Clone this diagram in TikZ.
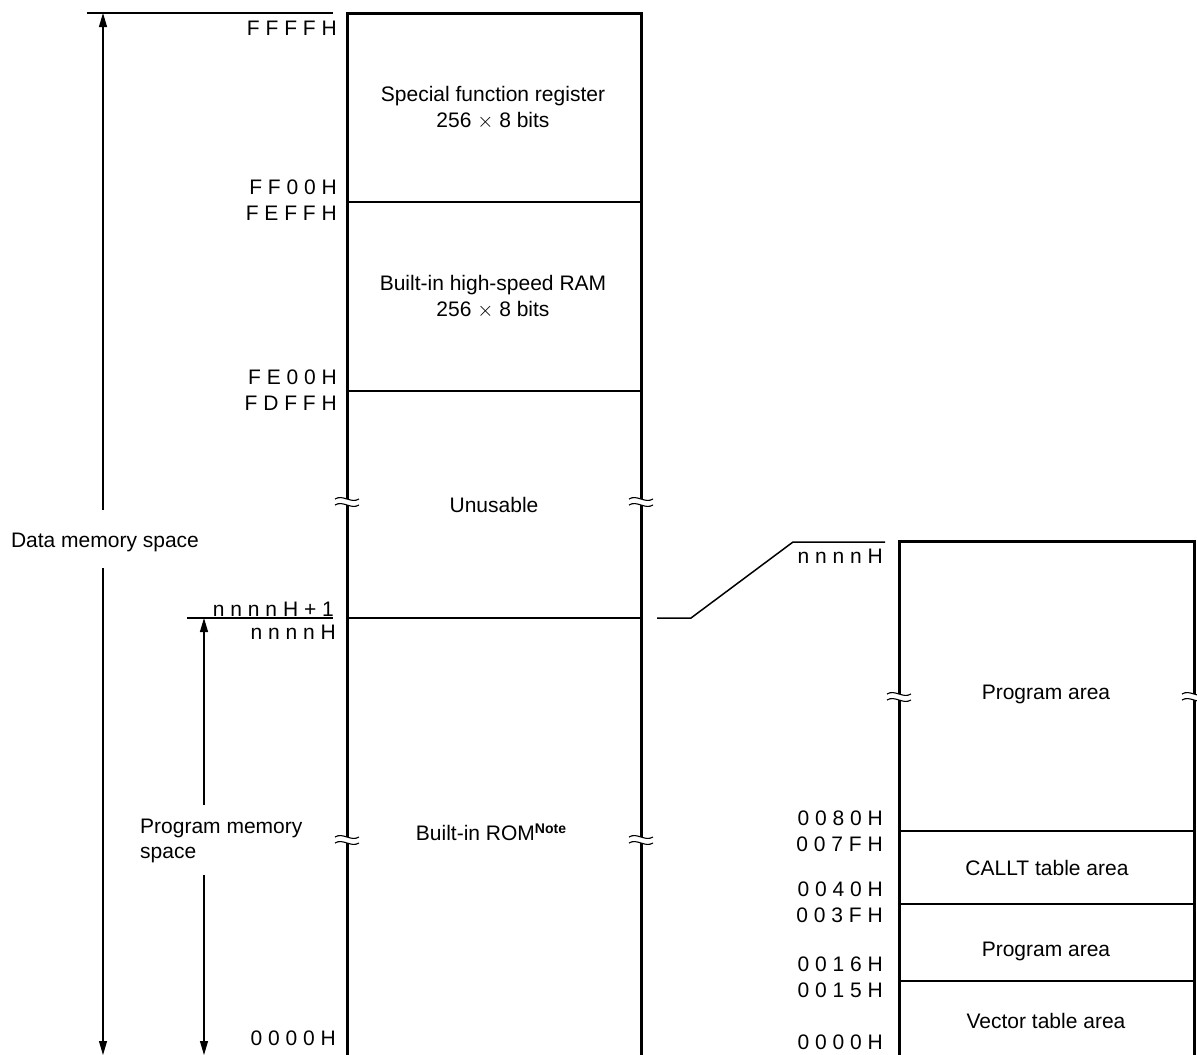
\documentclass[tikz,border=0pt]{standalone}
\usepackage{fontspec}
\setmainfont{Liberation Sans}
\usetikzlibrary{arrows.meta}

% break mark across a vertical edge
\newcommand{\brkmark}[2]{%
  \fill[white] (#1-12,#2-3) .. controls (#1-4,#2-8) and (#1+4,#2+2) .. (#1+12,#2-3)
    -- (#1+12,#2+3) .. controls (#1+4,#2+8) and (#1-4,#2-2) .. (#1-12,#2+3) -- cycle;
  \draw[line width=1.1pt] (#1-12,#2-3) .. controls (#1-4,#2-8) and (#1+4,#2+2) .. (#1+12,#2-3);
  \draw[line width=1.1pt] (#1-12,#2+3) .. controls (#1-4,#2-2) and (#1+4,#2+8) .. (#1+12,#2+3);
}

\tikzset{
  edge/.style={line width=3pt},
  divline/.style={line width=1.5pt},
  thinline/.style={line width=1.3pt},
  arr/.style={line width=1.1pt,-{Triangle[length=14pt,width=8pt]}},
  hexlbl/.style={anchor=east},
  txt/.style={anchor=base}
}

\begin{document}
\begin{tikzpicture}[
    x=1pt,y=-1pt,
    every node/.style={font=\fontsize{21}{25}\selectfont,inner sep=0pt}
    ]
    \useasboundingbox (0,0) rectangle (1197,1055);

    % main memory map
    \draw[edge] (347,1055) -- (347,13) -- (641,13) -- (641,1055);
    \draw[divline] (347,202) -- (641,202);
    \draw[divline] (347,391) -- (641,391);
    \draw[divline] (347,618) -- (641,618);
    \draw[thinline] (87,13) -- (333,13);
    \draw[thinline] (187,618) -- (333,618);

    \brkmark{347}{502}
    \brkmark{641}{502}
    \brkmark{347}{840}
    \brkmark{641}{840}

    \node[hexlbl] (ffffh) at (337,28.5) {F F F F H};
    \node[hexlbl] (ff00h) at (337,187.5) {F F 0 0 H};
    \node[hexlbl] (fefffh) at (337,213) {F E F F H};
    \node[hexlbl] (fe00h) at (337,377) {F E 0 0 H};
    \node[hexlbl] (fdffh) at (337,403) {F D F F H};
    \node[hexlbl] (nplus) at (334,609) {n n n n H + 1};
    \node[hexlbl] (nnnnh) at (336,632) {n n n n H};
    \node[hexlbl] (zeroa) at (336,1038) {0 0 0 0 H};

    \node[txt] (sfr) at (493,101) {Special function register};
    \node[txt] (sfrsize) at (493,127) {256 $\times$ 8 bits};
    \node[txt] (ram) at (493,290) {Built-in high-speed RAM};
    \node[txt] (ramsize) at (493,316) {256 $\times$ 8 bits};
    \node[txt] (unusable) at (494,512) {Unusable};
    \node[txt] (rom) at (491,840) {Built-in ROM\raisebox{7pt}{\fontsize{14}{14}\selectfont\bfseries Note}};

    % spaces
    \node[txt] (dms) at (105,547) {Data memory space};
    \coordinate (dtop) at (103,13);
    \coordinate (dbot) at (103,1055);
    \coordinate (dgapa) at (103,510);
    \coordinate (dgapb) at (103,568);
    \draw[arr] (dgapa) -- (dtop);
    \draw[arr] (dgapb) -- (dbot);

    \node[anchor=base west,align=left,font=\fontsize{21}{25}\selectfont] (pms) at (140,858) {Program memory\\space};
    \coordinate (ptop) at (204,618);
    \coordinate (pbot) at (204,1055);
    \coordinate (pgapa) at (204,805);
    \coordinate (pgapb) at (204,875);
    \draw[arr] (pgapa) -- (ptop);
    \draw[arr] (pgapb) -- (pbot);

    % program area detail
    \draw[edge] (899,1055) -- (899,541) -- (1194,541) -- (1194,1055);
    \draw[divline] (899,831) -- (1194,831);
    \draw[divline] (899,904) -- (1194,904);
    \draw[divline] (899,981) -- (1194,981);

    \brkmark{899}{697}
    \brkmark{1194}{697}

    \coordinate (linka) at (657,618);
    \coordinate (linkb) at (691,618);
    \coordinate (linkc) at (793,542);
    \coordinate (linkd) at (885,542);
    \draw[divline] (linka) -- (linkb) -- (linkc) -- (linkd);

    \node[hexlbl] (nnnnhb) at (883,556) {n n n n H};
    \node[hexlbl] (h0080) at (883,818) {0 0 8 0 H};
    \node[hexlbl] (h007f) at (883,844) {0 0 7 F H};
    \node[hexlbl] (h0040) at (883,889) {0 0 4 0 H};
    \node[hexlbl] (h003f) at (883,915) {0 0 3 F H};
    \node[hexlbl] (h0016) at (883,964) {0 0 1 6 H};
    \node[hexlbl] (h0015) at (883,990) {0 0 1 5 H};
    \node[hexlbl] (zerob) at (883,1042) {0 0 0 0 H};

    \node[txt] (progb) at (1046,699) {Program area};
    \node[txt] (callt) at (1047,875) {CALLT table area};
    \node[txt] (progc) at (1046,956) {Program area};
    \node[txt] (vect) at (1046,1028) {Vector table area};

\end{tikzpicture}
\end{document}
